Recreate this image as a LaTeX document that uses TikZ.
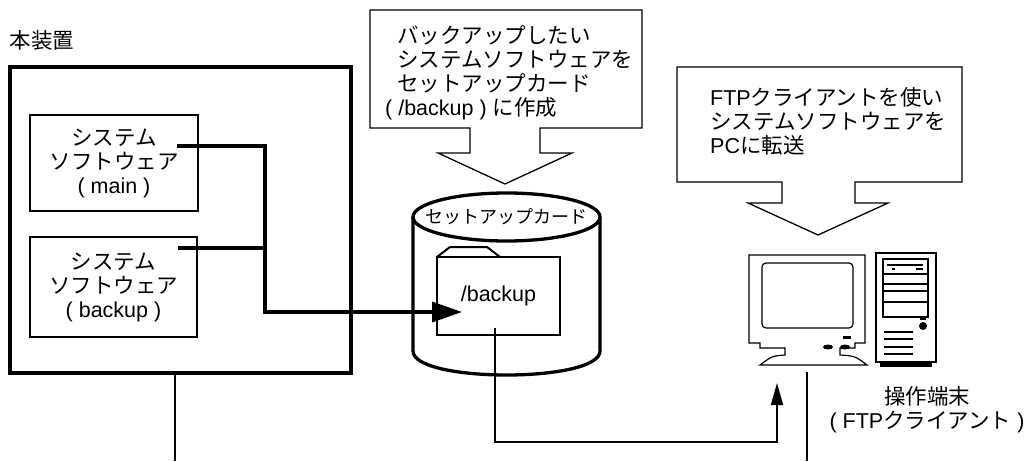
\documentclass[tikz,border=0pt]{standalone}
\usepackage{fontspec}
\setmainfont{Liberation Sans}
\newfontfamily\jp{Noto Sans CJK JP}
\usetikzlibrary{arrows.meta}
\newcommand{\bodyfont}{\fontsize{21.5}{24}\selectfont}

\begin{document}
\begin{tikzpicture}[x=1pt,y=-1pt,
  box/.style={draw,line width=2pt,align=center,font=\bodyfont,inner sep=0pt},
  callout/.style={draw,line width=1.3pt,fill=white},
  note/.style={align=left,anchor=west,inner sep=0pt,font=\bodyfont},
  link/.style={line width=3.5pt},
  wire/.style={line width=2pt},
  pc/.style={line width=1.2pt}]
  \useasboundingbox (0,0) rectangle (1034,461);

  % device with its two system images
  \node[font=\bodyfont,inner sep=0pt] (devlabel) at (42,40) {\jp 本装置};
  \node[draw,line width=3.3pt,minimum width=341pt,minimum height=306pt] (device) at (180.5,220) {};
  \node[box,minimum width=168pt,minimum height=96pt] (main) at (114,163)
    {{\jp システム}\\{\jp ソフトウェア}\\( main )};
  \node[box,minimum width=167pt,minimum height=100pt] (bkup) at (113.5,287)
    {{\jp システム}\\{\jp ソフトウェア}\\( backup )};

  % setup card
  \draw[line width=3.3pt] (413,217) -- (413,351) .. controls (413,383) and (600,383) .. (600,351) -- (600,217);
  \draw[line width=3.3pt,fill=white] (506.5,217) ellipse [x radius=93.5,y radius=24];
  \node[inner sep=0pt,font=\fontsize{18}{20}\selectfont\jp] (cardlabel) at (506.5,217) {セットアップカード};
  \draw[wire] (437,257) -- (450,247) -- (487,247) -- (500,257);
  \node[draw,line width=2pt,minimum width=123pt,minimum height=78pt,font=\bodyfont] (folder) at (498.5,296) {/backup};

  % terminal: monitor
  \draw[pc] (749,255) -- (865,255) -- (865,343) -- (855,343) -- (855,348) -- (840,348) -- (840,355)
    .. controls (855,356) .. (867,365) -- (760,365) .. controls (772,356) .. (785,355)
    -- (785,348) -- (760,348) -- (760,343) -- (749,343) -- cycle;
  \draw[pc,rounded corners=4pt] (762,263) rectangle (853,328);
  \fill (843,336) rectangle (851,339);
  \fill (828,347) ellipse [x radius=5,y radius=2.5];
  \fill (845,347) ellipse [x radius=5,y radius=2.5];

  % terminal: tower
  \draw[pc] (876,253) rectangle (936,362);
  \fill (880,362) rectangle (932,367);
  \draw[pc] (883,259) rectangle (928,317);
  \foreach \y in {274,284,291,302}
    \draw[pc] (883,\y) -- (928,\y);
  \draw[line width=2.5pt] (887,265) -- (923,265);
  \draw[pc] (892,269) -- (895,269);
  \draw[pc] (916,269) -- (923,269);
  \draw[pc] (920,319) -- (926,319);
  \fill (923,326) circle (4);
  \foreach \y in {332,339,347,354}
    \draw[pc] (884,\y) -- (913,\y);

  \node[align=center,font=\bodyfont,inner sep=0pt] (pclabel) at (927,410)
    {{\jp 操作端末}\\( FTP{\jp クライアント} )};

  % connection points
  \coordinate (mainout) at (177,146);
  \coordinate (bkupout) at (178,248);
  \coordinate (joint) at (265,312);
  \coordinate (folderin) at (462,312);
  \coordinate (folderout) at (495,328);
  \coordinate (lowrun) at (777,442);
  \coordinate (pcin) at (777,383);
  \coordinate (pcfoot) at (807,372);
  \coordinate (busL) at (175,461);
  \coordinate (busR) at (807,461);

  % copy to the card
  \draw[link,-{Triangle[length=30pt,width=20pt]}] (mainout) -| (joint) -- (folderin);
  \draw[link] (bkupout) -- (bkupout -| joint);

  % transfer to the terminal
  \draw[wire,-{Triangle[length=22pt,width=12pt]}] (folderout) |- (lowrun) -- (pcin);

  % network drops
  \draw[wire] (device.south -| busL) -- (busL);
  \draw[wire] (pcfoot) -- (busR);

  % callouts
  \draw[callout] (370,10) -- (642,10) -- (642,128) -- (540,128) -- (540,153) -- (572,153) -- (505,184)
    -- (438,153) -- (470,153) -- (470,128) -- (370,128) -- cycle;
  \node[note] (note1) at (385,73)
    {\hspace*{12pt}{\jp バックアップしたい}\\\hspace*{12pt}{\jp システムソフトウェアを}\\
     \hspace*{12pt}{\jp セットアップカード}\\( /backup ) {\jp に作成}};

  \draw[callout] (677,67) -- (962,67) -- (962,182) -- (855,182) -- (855,203) -- (888,203) -- (818,235)
    -- (748,203) -- (782,203) -- (782,182) -- (677,182) -- cycle;
  \node[note] (note2) at (710,121)
    {FTP{\jp クライアントを使い}\\{\jp システムソフトウェアを}\\PC{\jp に転送}};
\end{tikzpicture}
\end{document}
